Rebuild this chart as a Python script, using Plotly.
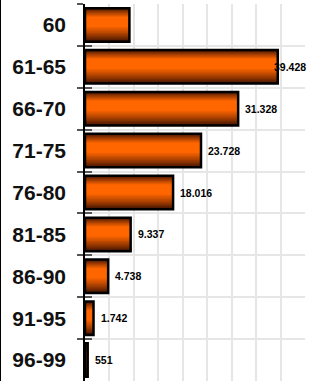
import plotly.graph_objects as go

categories = ["60", "61-65", "66-70", "71-75", "76-80", "81-85", "86-90", "91-95", "96-99"]
values = [9084, 39428, 31328, 23728, 18016, 9337, 4738, 1742, 551]
x_max = 45000
x_step = 5000

W, H = 309, 381
ML, MR, MT, MB = 85, 4, 4, 0
plot_w = W - ML - MR

# gradient layers: nested bands from the outer edge to the bright core
top0, bot0 = -0.40, 0.40
top1, bot1 = -0.19, 0.05
dark = (62, 18, 0)
bright = (255, 102, 0)
n_steps = 10

fig = go.Figure()
for i in range(n_steps + 1):
    f = i / n_steps
    t = top0 + (top1 - top0) * f
    b = bot0 + (bot1 - bot0) * f
    g = f ** 0.8
    col = "rgb({},{},{})".format(*[round(d + (br - d) * g) for d, br in zip(dark, bright)])
    fig.add_trace(go.Bar(
        x=values, y=categories, orientation="h", width=b - t, offset=t,
        marker=dict(color=col, line=dict(width=0)),
        hoverinfo="skip", showlegend=False,
    ))
# outline
fig.add_trace(go.Bar(
    x=values, y=categories, orientation="h", width=bot0 - top0, offset=top0,
    marker=dict(color="rgba(0,0,0,0)", line=dict(color="#000000", width=2.5)),
    hoverinfo="skip", showlegend=False,
))
# invisible trace carrying the inner tick marks
fig.add_trace(go.Bar(
    x=values, y=categories, orientation="h", yaxis="y2", width=0.80,
    opacity=0, hoverinfo="skip", showlegend=False,
))

def fmt(v):
    return f"{v:,}".replace(",", ".")

lab_font = dict(family="Liberation Sans, Arial", size=10.5, color="#000000", weight="bold")
annotations = []
for cat, v in zip(categories, values):
    txt = fmt(v)
    est_w = len(txt) * 5.8
    px = v / x_max * plot_w
    if px + 7 + est_w > plot_w:
        annotations.append(dict(x=x_max, y=cat, xref="x", yref="y", text=txt,
                                showarrow=False, xanchor="right", xshift=3, font=lab_font))
    else:
        annotations.append(dict(x=v, y=cat, xref="x", yref="y", text=txt,
                                showarrow=False, xanchor="left", xshift=5, font=lab_font))

fig.update_layout(
    width=W, height=H,
    margin=dict(l=ML, r=MR, t=MT, b=MB, pad=0),
    barmode="overlay",
    paper_bgcolor="#ffffff", plot_bgcolor="#ffffff",
    annotations=annotations,
    xaxis=dict(range=[0, x_max + 1], dtick=x_step, tick0=0, showgrid=True,
               gridcolor="#e6e6e6", gridwidth=2, showticklabels=False,
               zeroline=False, showline=False, ticks=""),
    yaxis=dict(type="category", categoryorder="array", categoryarray=categories,
               range=[len(categories) - 0.5, -0.5], tickson="boundaries", ticks="outside",
               ticklen=6, tickwidth=1.5, tickcolor="#555555",
               showgrid=True, gridcolor="#e6e6e6", gridwidth=2,
               showline=True, linecolor="#000000", linewidth=1.5,
               ticklabelstandoff=13,
               tickfont=dict(family="Liberation Sans, Arial", size=21, color="#111111", weight="bold")),
    yaxis2=dict(type="category", categoryorder="array", categoryarray=categories,
                range=[len(categories) - 0.5, -0.5], overlaying="y", side="left",
                tickson="boundaries", ticks="inside", ticklen=7, tickwidth=1.5,
                tickcolor="#555555", showticklabels=False, showgrid=False,
                showline=False, zeroline=False),
    shapes=[dict(type="line", xref="paper", yref="paper",
                 x0=-ML / plot_w, x1=-ML / plot_w, y0=-0.1, y1=1.1,
                 line=dict(color="#000000", width=2))],
)

fig.write_html("out.html", config={"displayModeBar": False},
               post_script="document.body.style.margin='0';")
